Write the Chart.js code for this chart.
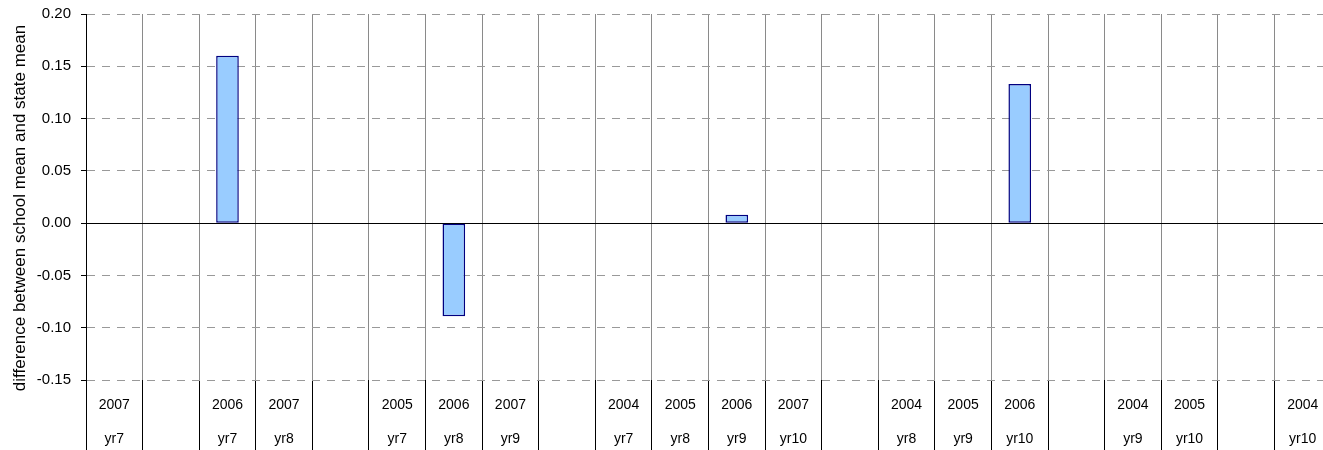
<!DOCTYPE html>
<html>
<head>
<meta charset="utf-8">
<title>School mean vs state mean</title>
<script src="https://cdn.jsdelivr.net/npm/chart.js@4/dist/chart.umd.min.js"></script>
<style>
  html, body { margin: 0; padding: 0; background: #fff; overflow: hidden; }
  #wrap { width: 1342px; height: 450px; position: relative; }
</style>
</head>
<body>
<div id="wrap"><canvas id="barChart"></canvas></div>
<script>
// categories: test year over grade (blank columns separate the cohorts)
const years = ["2007", "", "2006", "2007", "", "2005", "2006", "2007", "", "2004", "2005",
  "2006", "2007", "", "2004", "2005", "2006", "", "2004", "2005", "", "2004"];
const grades = ["yr7", "", "yr7", "yr8", "", "yr7", "yr8", "yr9", "", "yr7", "yr8",
  "yr9", "yr10", "", "yr8", "yr9", "yr10", "", "yr9", "yr10", "", "yr10"];

// difference between school mean and state mean
const diffs = [null, null, 0.16, null, null, null, -0.089, null, null, null, null,
  0.008, null, null, null, null, 0.133, null, null, null, null, null];

const yMin = -0.15;
const yMax = 0.20;
const yStep = 0.05;
const yTitleText = "difference between school mean and state mean";

const labels = years.map((y, i) => [y, grades[i]]);
const FONT = 'Arial, "Liberation Sans", sans-serif';

// the axis title sits a little below the middle of the plot in the original
const yTitlePlugin = {
  id: "yTitle",
  afterDraw(chart) {
    const { ctx, chartArea } = chart;
    ctx.save();
    ctx.translate(20, (chartArea.top + chartArea.bottom) / 2 + 11);
    ctx.rotate(-Math.PI / 2);
    ctx.textAlign = "center";
    ctx.textBaseline = "middle";
    ctx.fillStyle = "#000";
    ctx.font = "17px " + FONT;
    ctx.fillText(yTitleText, 0, 0);
    ctx.restore();
  },
};

new Chart(document.getElementById("barChart"), {
  type: "bar",
  data: {
    labels: labels,
    datasets: [
      {
        data: diffs,
        backgroundColor: "#99ccff",
        borderColor: "#000080",
        borderWidth: 1.5,
        borderSkipped: false,
        barPercentage: 0.4,
        categoryPercentage: 1.0,
      },
    ],
  },
  options: {
    responsive: true,
    maintainAspectRatio: false,
    animation: false,
    layout: { padding: { top: 12, right: 11, left: 0, bottom: 0 } },
    plugins: {
      legend: { display: false },
      tooltip: { enabled: false },
    },
    scales: {
      x: {
        grid: {
          offset: true,
          color: "#8a8a8a",
          tickColor: "#000",
          tickLength: 70,
        },
        border: { display: false },
        ticks: {
          autoSkip: false,
          maxRotation: 0,
          padding: -62,
          color: "#000",
          font: { family: FONT, size: 14, lineHeight: "34px" },
        },
        afterFit: (scale) => { scale.height = 70; },
      },
      y: {
        min: yMin,
        max: yMax,
        grid: {
          color: (ctx) => (Math.abs(ctx.tick.value) < 1e-9 ? "#000" : "#999"),
          tickColor: "#000",
          tickLength: 5,
        },
        border: {
          color: "#000",
          dash: (ctx) => (ctx.tick && Math.abs(ctx.tick.value) < 1e-9 ? [] : [8, 7]),
        },
        ticks: {
          stepSize: yStep,
          padding: 10,
          color: "#000",
          font: { family: FONT, size: 15, lineHeight: "8px" },
          callback: (v) => v.toFixed(2),
        },
        afterFit: (scale) => { scale.width = 86; },
      },
    },
  },
  plugins: [yTitlePlugin],
});
</script>
</body>
</html>
